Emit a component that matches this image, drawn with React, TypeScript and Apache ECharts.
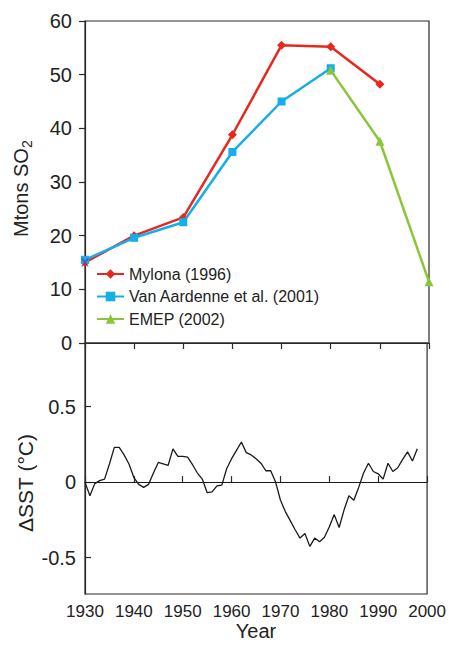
import React, { useEffect, useRef } from "react";
import * as echarts from "echarts";

const FONT = "'Liberation Sans', Arial, Helvetica, sans-serif";

const decades = [1930, 1940, 1950, 1960, 1970, 1980, 1990, 2000];
const mylonaYears = [1930, 1940, 1950, 1960, 1970, 1980, 1990];
const mylonaValues = [15.0, 20.0, 23.4, 38.8, 55.5, 55.2, 48.2];
const aardenneYears = [1930, 1940, 1950, 1960, 1970, 1980];
const aardenneValues = [15.5, 19.6, 22.5, 35.6, 45.0, 51.2];
const emepYears = [1980, 1990, 2000];
const emepValues = [50.8, 37.6, 11.4];
const overlapYears = [1930];
const overlapValues = [15.0];

const sstStartYear = 1930;
const sstValues = [
  0.0, -0.09, -0.01, 0.01, 0.02, 0.12, 0.23, 0.23, 0.18, 0.12,
  0.03, -0.015, -0.035, -0.015, 0.06, 0.13, 0.12, 0.11, 0.22, 0.17,
  0.17, 0.165, 0.115, 0.06, 0.02, -0.07, -0.065, -0.025, -0.02, 0.09,
  0.155, 0.21, 0.265, 0.195, 0.18, 0.155, 0.125, 0.075, 0.075, 0.0,
  -0.12, -0.195, -0.255, -0.315, -0.37, -0.34, -0.425, -0.37, -0.395, -0.365,
  -0.295, -0.215, -0.3, -0.185, -0.09, -0.12, -0.035, 0.06, 0.125, 0.07,
  0.055, 0.02, 0.125, 0.07, 0.095, 0.15, 0.2, 0.14, 0.22,
];

const seriesNames = ["Mylona (1996)", "Van Aardenne et al. (2001)", "EMEP (2002)"];
const seriesColors = ["#e8281e", "#14aee8", "#8cc43c"];

const zip = (xs: number[], ys: number[]) => xs.map((x, i) => [x, ys[i]]);

export default function App() {
  const ref = useRef<HTMLDivElement>(null);

  useEffect(() => {
    if (!ref.current) return;
    const chart = echarts.init(ref.current, undefined, { renderer: "svg" });
    const axisLineStyle = { color: "#2a2a2a", width: 1.2 };
    const sstData = sstValues.map((v, i) => [sstStartYear + i, v]);

    chart.setOption({
      animation: false,
      backgroundColor: "#ffffff",
      textStyle: { fontFamily: FONT },
      grid: [
        { left: 85, right: 20, top: 21, height: 322, show: true, borderColor: "#2a2a2a", borderWidth: 1.2 },
        { left: 85, right: 20, top: 343, height: 251, show: true, borderColor: "#2a2a2a", borderWidth: 1.2 },
      ],
      legend: {
        data: seriesNames,
        orient: "vertical",
        left: 96,
        top: 266,
        padding: 0,
        itemGap: 6.5,
        itemWidth: 27,
        itemHeight: 12,
        textStyle: { fontSize: 16, color: "#222", fontFamily: FONT },
      },
      xAxis: [
        {
          type: "value",
          gridIndex: 0,
          min: decades[0],
          max: decades[decades.length - 1],
          interval: 10,
          axisLine: { show: true, lineStyle: axisLineStyle },
          axisTick: { show: true, inside: false, length: 6, lineStyle: axisLineStyle },
          axisLabel: { show: false },
          splitLine: { show: false },
        },
        {
          type: "value",
          gridIndex: 1,
          min: decades[0],
          max: decades[decades.length - 1],
          interval: 10,
          axisLine: { show: true, lineStyle: axisLineStyle },
          axisTick: { show: true, inside: true, length: 6, lineStyle: axisLineStyle },
          axisLabel: {
            show: true,
            fontSize: 17,
            color: "#222",
            margin: 9,
            fontFamily: FONT,
            formatter: (v: number) => String(v),
          },
          splitLine: { show: false },
          name: "Year",
          nameLocation: "middle",
          nameGap: 22,
          nameTextStyle: { fontSize: 20, color: "#222", fontFamily: FONT, verticalAlign: "top" },
        },
      ],
      yAxis: [
        {
          type: "value",
          gridIndex: 0,
          min: 0,
          max: 60,
          interval: 10,
          axisLine: { show: true, lineStyle: axisLineStyle },
          axisTick: { show: true, inside: false, length: 6, lineStyle: axisLineStyle },
          axisLabel: { fontSize: 20, color: "#222", margin: 13, fontFamily: FONT },
          splitLine: { show: false },
        },
        {
          type: "value",
          gridIndex: 1,
          min: -0.74,
          max: 0.92,
          splitNumber: 3,
          axisLine: { show: true, lineStyle: axisLineStyle },
          axisTick: { show: true, inside: true, length: 6, lineStyle: axisLineStyle },
          axisLabel: {
            fontSize: 20,
            color: "#222",
            margin: 9,
            fontFamily: FONT,
            showMinLabel: false,
            showMaxLabel: false,
            formatter: (v: number) => (v === 0 ? "0" : String(v)),
          },
          splitLine: { show: false },
        },
      ],
      series: [
        {
          name: seriesNames[0],
          type: "line",
          xAxisIndex: 0,
          yAxisIndex: 0,
          data: zip(mylonaYears, mylonaValues),
          symbol: "diamond",
          symbolSize: 9,
          lineStyle: { color: seriesColors[0], width: 2.5 },
          itemStyle: { color: seriesColors[0] },
          z: 2,
        },
        {
          name: seriesNames[1],
          type: "line",
          xAxisIndex: 0,
          yAxisIndex: 0,
          data: zip(aardenneYears, aardenneValues),
          symbol: "rect",
          symbolSize: 8,
          lineStyle: { color: seriesColors[1], width: 2.5 },
          itemStyle: { color: seriesColors[1] },
          z: 3,
        },
        {
          name: seriesNames[2],
          type: "line",
          xAxisIndex: 0,
          yAxisIndex: 0,
          data: zip(emepYears, emepValues),
          symbol: "triangle",
          symbolSize: 9,
          lineStyle: { color: seriesColors[2], width: 2.5 },
          itemStyle: { color: seriesColors[2] },
          z: 4,
        },
        {
          name: "overlap",
          type: "scatter",
          xAxisIndex: 0,
          yAxisIndex: 0,
          data: zip(overlapYears, overlapValues),
          symbol: "path://M0,0 L2,0 L5,3 L8,0 L10,0 L6,5 L10,10 L8,10 L5,7 L2,10 L0,10 L4,5 Z",
          symbolSize: 8,
          itemStyle: { color: "#8a2a90" },
          z: 5,
        },
        {
          name: "SST",
          type: "line",
          xAxisIndex: 1,
          yAxisIndex: 1,
          data: sstData,
          symbol: "none",
          lineStyle: { color: "#1a1a1a", width: 1.3 },
          markLine: {
            silent: true,
            symbol: ["none", "none"],
            label: { show: false },
            lineStyle: { color: "#1a1a1a", width: 1.2, type: "solid" },
            data: [{ yAxis: 0 }],
          },
        },
      ],
      graphic: [
        {
          type: "group",
          x: 21,
          y: 237,
          rotation: Math.PI / 2,
          children: [
            {
              type: "text",
              x: 0,
              y: 0,
              style: { text: "Mtons SO", fontSize: 20, fontFamily: FONT, fill: "#222", align: "left", verticalAlign: "middle" },
            },
            {
              type: "text",
              x: 89,
              y: 6,
              style: { text: "2", fontSize: 14, fontFamily: FONT, fill: "#222", align: "left", verticalAlign: "middle" },
            },
          ],
        },
        {
          type: "text",
          x: 25,
          y: 483,
          rotation: Math.PI / 2,
          style: { text: "ΔSST (°C)", fontSize: 21, fontFamily: FONT, fill: "#222", align: "center", verticalAlign: "middle" },
        },
      ],
    });
    return () => chart.dispose();
  }, []);

  return <div ref={ref} style={{ position: "fixed", left: 0, top: 0, width: 449, height: 645 }} />;
}
